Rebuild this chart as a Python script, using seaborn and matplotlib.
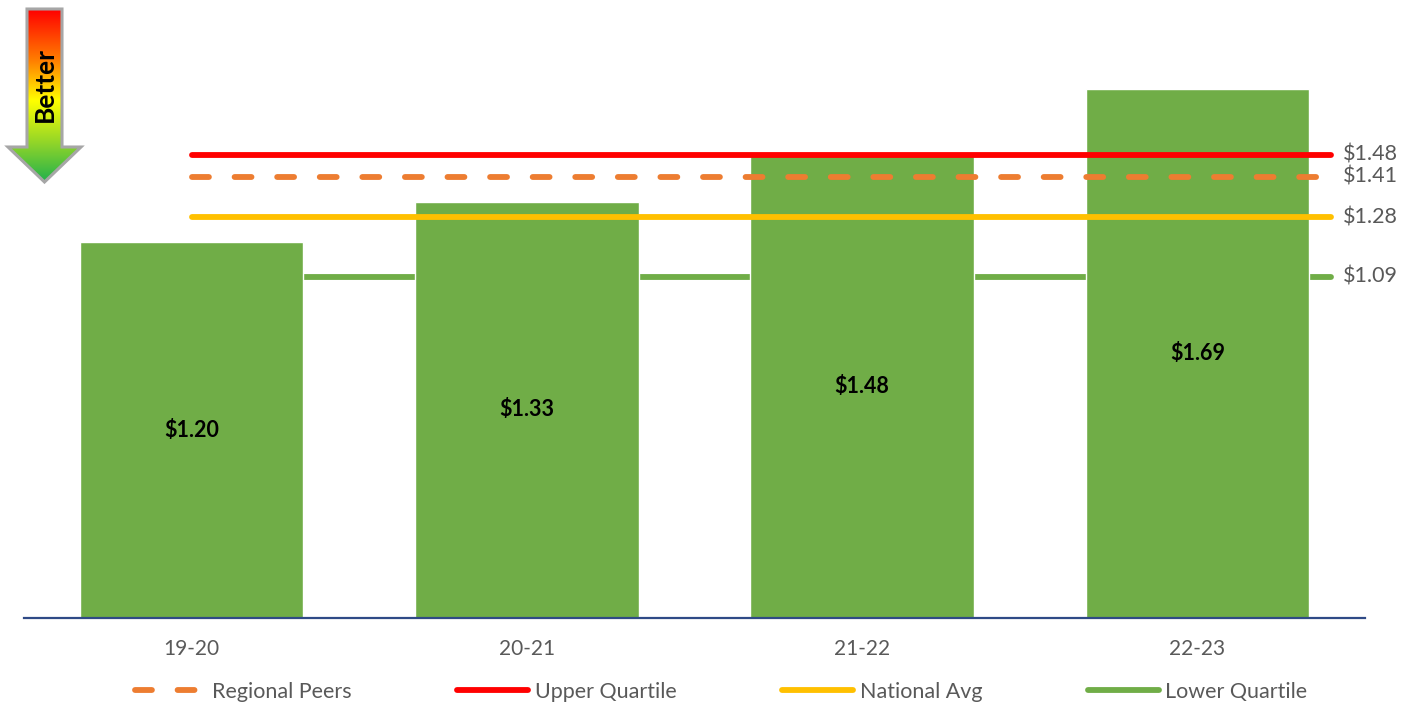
import numpy as np
import pandas as pd
import matplotlib
matplotlib.use("Agg")
import matplotlib.pyplot as plt
import seaborn as sns
from matplotlib.patches import Polygon
from matplotlib.colors import LinearSegmentedColormap

# Cost per year
years = ["19-20", "20-21", "21-22", "22-23"]
cost = [1.20, 1.33, 1.48, 1.69]

# Benchmarks (legend order)
benchmark_names = ["Regional Peers", "Upper Quartile", "National Avg", "Lower Quartile"]
benchmark_values = [1.41, 1.48, 1.28, 1.09]
benchmark_colors = ["#ED7D31", "#FF0000", "#FFC000", "#70AD47"]
benchmark_dashed = [True, False, False, False]

BAR_COLOR = "#70AD47"
TEXT_GREY = "#595959"

sns.set_theme(style="white")
plt.rcParams["font.family"] = ["Lato", "DejaVu Sans"]

W, H = 1401, 705
fig = plt.figure(figsize=(W / 100, H / 100), dpi=100)
ax = fig.add_axes([24 / W, 87 / H, 1341 / W, 594.7 / H])

df = pd.DataFrame({"year": years, "cost": cost})
sns.barplot(data=df, x="year", y="cost", color=BAR_COLOR, saturation=1,
            width=0.667, ax=ax, zorder=2, errorbar=None)

# Benchmark lines across the chart, with value labels at the right end
x_span = [0, 3.4]
for name, v, c, dashed in zip(benchmark_names, benchmark_values,
                              benchmark_colors, benchmark_dashed):
    z = 1 if name == "Lower Quartile" else 3
    ln, = ax.plot(x_span, [v, v], color=c, lw=4.2, solid_capstyle="round",
                  dash_capstyle="round", zorder=z, label=name)
    if dashed:
        ln.set_dashes([2.9, 4.4])
    ax.text(3.435, v, f"\\${v:.2f}", ha="left", va="center", fontsize=15.5,
            color=TEXT_GREY, clip_on=False)

# Values inside the bars
for i, v in enumerate(cost):
    ax.text(i, v / 2, f"\\${v:.2f}", ha="center", va="center",
            fontsize=15.5, fontweight="bold", color="black", zorder=4)

ax.set_xlim(-0.5, 3.5)
ax.set_ylim(0, 1.9)
ax.set_xlabel("")
ax.set_ylabel("")
ax.set_yticks([])
for side in ["top", "left", "right"]:
    ax.spines[side].set_visible(False)
ax.spines["bottom"].set_color("#2F4A86")
ax.spines["bottom"].set_linewidth(1.6)
ax.spines["bottom"].set_zorder(5)
ax.tick_params(axis="x", length=0, pad=15, labelsize=15, labelcolor=TEXT_GREY)

handles, labels = ax.get_legend_handles_labels()
leg = fig.legend(handles, labels, loc="center", bbox_to_anchor=(721 / W, 13 / H),
                 ncol=4, frameon=False, fontsize=15.5, handlelength=3.3,
                 handletextpad=0.3, columnspacing=4.9)
for t in leg.get_texts():
    t.set_color(TEXT_GREY)

# "Better" arrow pointing down, filled with a red-to-green gradient
ov = fig.add_axes([0, 0, 1, 1], zorder=5)
ov.patch.set_alpha(0)
pts = [(27, 9), (62, 9), (62, 147), (81, 147), (44.5, 182), (8, 147), (27, 147)]
arrow = Polygon(pts, closed=True, fc="none", ec="#A6A6A6", lw=2.2, zorder=3,
                joinstyle="miter")
ov.add_patch(arrow)
cmap = LinearSegmentedColormap.from_list(
    "better", [(0, "#FF0000"), (0.3, "#FF8000"), (0.53, "#FFFF00"),
               (0.78, "#8FD42A"), (1, "#22B14C")])
grad = np.linspace(0, 1, 256).reshape(-1, 1)
im = ov.imshow(grad, cmap=cmap, extent=[8, 81, 182, 9], aspect="auto", zorder=2)
im.set_clip_path(arrow)
ov.text(45, 85, "Better", rotation=90, ha="center", va="center",
        fontsize=19, fontweight="bold", color="black", zorder=4)
ov.set_xlim(0, W)
ov.set_ylim(H, 0)
ov.axis("off")

fig.savefig("out.png", dpi=100)
